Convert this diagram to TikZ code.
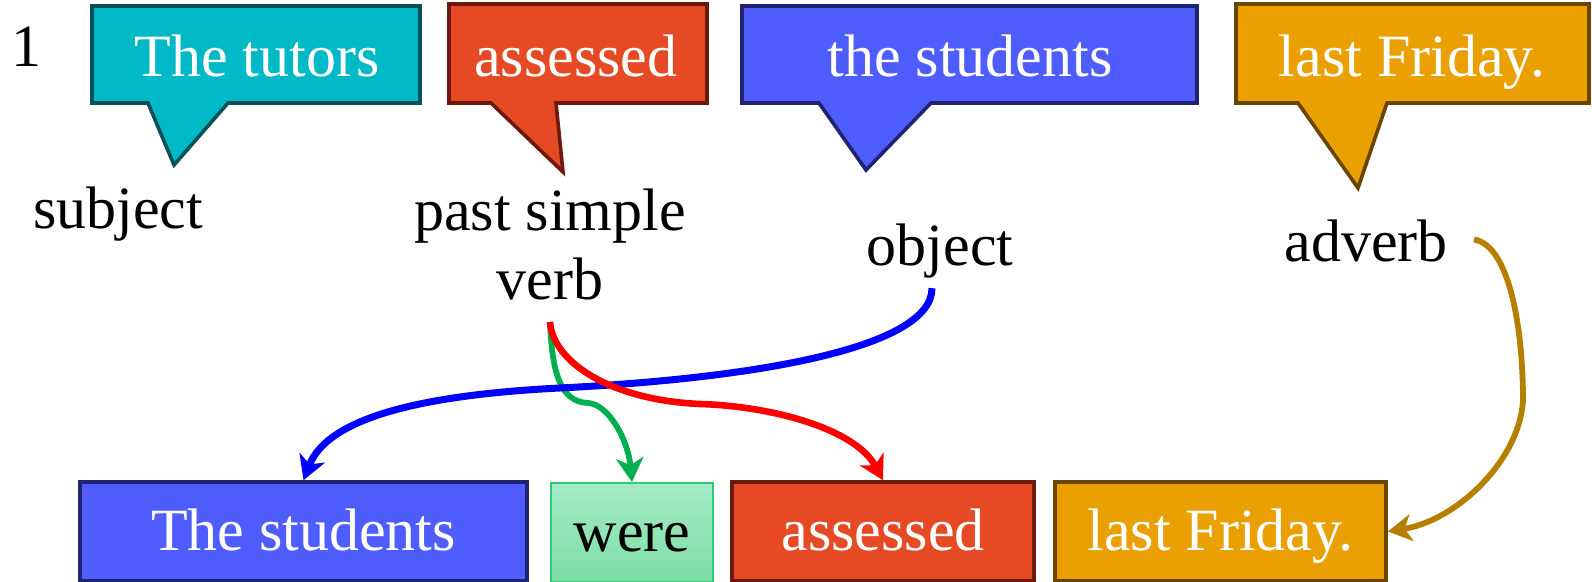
\documentclass[tikz,border=0pt]{standalone}
\usepackage{fontspec}
\setmainfont{Liberation Serif}
\usetikzlibrary{arrows.meta}

\definecolor{tutorfill}{RGB}{0,185,198}
\definecolor{tutorline}{RGB}{10,80,88}
\definecolor{verbfill}{RGB}{229,74,36}
\definecolor{verbline}{RGB}{107,26,11}
\definecolor{objfill}{RGB}{79,93,255}
\definecolor{objline}{RGB}{31,35,112}
\definecolor{advfill}{RGB}{234,160,0}
\definecolor{advline}{RGB}{106,69,0}
\definecolor{weretop}{RGB}{164,235,196}
\definecolor{werebot}{RGB}{126,221,166}
\definecolor{wereline}{RGB}{45,204,124}
\definecolor{auxgreen}{RGB}{0,176,80}
\definecolor{advarrow}{RGB}{181,127,0}

\begin{document}
\begin{tikzpicture}[x=0.5pt, y=-0.5pt,
		word/.style={anchor=base, text=white},
		role/.style={anchor=base, align=center},
		bubble/.style={line width=1.8pt, line join=miter},
		chunk/.style={minimum width=#1, minimum height=49.5pt, text height=22.5pt, text depth=3pt, line width=1.8pt, text=white},
		link/.style={line width=3.3pt, -{Stealth[length=12pt, width=13.5pt, inset=3.5pt]}}]
				\tikzstyle{every node}=[inner sep=3pt, font=\fontsize{30}{34.5}\selectfont]
				\useasboundingbox (0,0) rectangle (1592,582);
				% sentence 1, with speech bubbles
				\node [anchor=base] (num) at (26,67) {1};
				\draw [bubble, draw=tutorline, fill=tutorfill] (92,6) -- (420,6) -- (420,103) -- (228,103) -- (174,165) -- (148,103) -- (92,103) -- cycle;
				\draw [bubble, draw=verbline, fill=verbfill] (449,4) -- (707,4) -- (707,103) -- (556,103) -- (563,172) -- (491,103) -- (449,103) -- cycle;
				\draw [bubble, draw=objline, fill=objfill] (742,6) -- (1197,6) -- (1197,103) -- (931,103) -- (866,170) -- (819,103) -- (742,103) -- cycle;
				\draw [bubble, draw=advline, fill=advfill] (1236,4) -- (1589,4) -- (1589,103) -- (1387,103) -- (1358,188) -- (1298,103) -- (1236,103) -- cycle;
				\node [word] (tutors) at (257,77) {The tutors};
				\node [word] (assessed1) at (576,77) {assessed};
				\node [word] (students1) at (970,77) {the students};
				\node [word] (friday1) at (1412,77) {last Friday.};
				% roles
				\node [role] (subj) at (118,229) {subject};
				\node [role] (verb) at (550,300) {past simple\\verb};
				\node [role] (obj) at (940,266) {object};
				\node [role] (adv) at (1366,262) {adverb};
				% sentence 2
				\node [chunk=223.5pt, draw=objline, fill=objfill] (students2) at (303.5,531.5) {The students};
				\node [chunk=81pt, draw=wereline, line width=0.9pt, top color=weretop, bottom color=werebot, text=black] (were) at (632,532.5) {were};
				\node [chunk=151pt, draw=verbline, fill=verbfill] (assessed2) at (883,531.5) {assessed};
				\node [chunk=165.5pt, draw=advline, fill=advfill] (friday2) at (1220.5,531.5) {last Friday.};
				% arrows
				\draw [link, auxgreen, line width=2.9pt] ([yshift=-7.5pt]verb.south) .. controls +(2,50) and +(-28,-1) .. (588,403) .. controls +(20,1) and +(-4,-43) .. (were.north);
				\draw [link, blue, line width=3.5pt] ([xshift=-4pt, yshift=-1.5pt]obj.south) .. controls +(0,59) and +(200,-10) .. (560,388) .. controls +(-140,7) and +(24,-62) .. (students2.north);
				\draw [link, red] ([yshift=-7.5pt]verb.south) .. controls +(3,40) and +(-90,-4) .. (700,404) .. controls +(70,2) and +(-28,-52) .. (assessed2.north);
				\draw [link, advarrow, line width=2.9pt] ([xshift=10pt, yshift=1pt]adv.east) .. controls +(36,6) and +(0,-70) .. (1523,400) .. controls +(-3,60) and +(69,-11) .. (friday2.east);
		\end{tikzpicture}
\end{document}
